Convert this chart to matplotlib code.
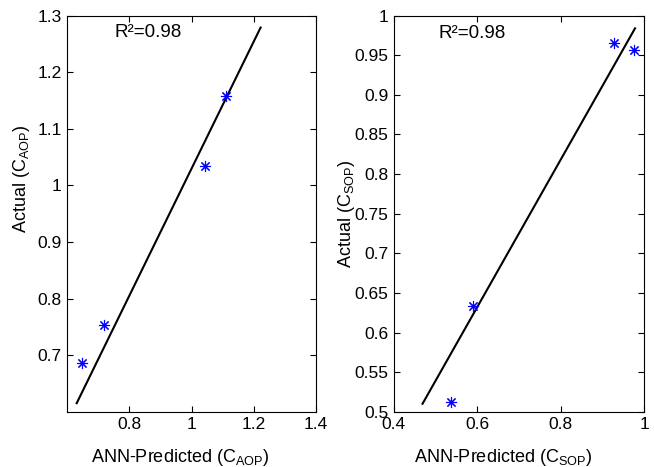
import matplotlib
matplotlib.use("Agg")
import matplotlib.pyplot as plt

plt.rcParams['font.family'] = ['Liberation Sans', 'DejaVu Sans']
plt.rcParams['mathtext.default'] = 'regular'

# Left panel (C_AOP)
aop_pred = [0.648, 0.717, 1.043, 1.110]
aop_actual = [0.686, 0.753, 1.035, 1.158]
aop_fit_x = [0.630, 1.222]
aop_fit_y = [0.615, 1.279]
aop_xticks = [0.8, 1.0, 1.2, 1.4]
aop_xticklabels = ['0.8', '1', '1.2', '1.4']
aop_yticks = [0.7, 0.8, 0.9, 1.0, 1.1, 1.2, 1.3]
aop_yticklabels = ['0.7', '0.8', '0.9', '1', '1.1', '1.2', '1.3']

# Right panel (C_SOP)
sop_pred = [0.538, 0.589, 0.928, 0.976]
sop_actual = [0.512, 0.634, 0.966, 0.957]
sop_fit_x = [0.469, 0.978]
sop_fit_y = [0.510, 0.984]
sop_xticks = [0.4, 0.6, 0.8, 1.0]
sop_xticklabels = ['0.4', '0.6', '0.8', '1']
sop_yticks = [0.5, 0.55, 0.6, 0.65, 0.7, 0.75, 0.8, 0.85, 0.9, 0.95, 1.0]
sop_yticklabels = ['0.5', '0.55', '0.6', '0.65', '0.7', '0.75', '0.8', '0.85', '0.9', '0.95', '1']

r2_text = 'R²=0.98'

fig = plt.figure(figsize=(6.54, 4.67), dpi=100)
ax1 = fig.add_axes([0.103, 0.1184, 0.380, 0.848])
ax2 = fig.add_axes([0.602, 0.1184, 0.383, 0.848])

asterisk = (8, 2, 0)
fs_tick = 12.5
fs_label = 13
fs_r2 = 13.5

def style(ax):
    ax.tick_params(direction='in', top=True, right=True, labelsize=fs_tick, length=4, width=0.8, pad=4)
    for s in ax.spines.values():
        s.set_linewidth(0.8)

ax1.plot(aop_fit_x, aop_fit_y, color='black', lw=1.5)
ax1.plot(aop_pred, aop_actual, linestyle='none', marker=asterisk, color='blue', markersize=8, markeredgewidth=0.8)
ax1.set_xlim(0.6, 1.4)
ax1.set_ylim(0.6, 1.3)
ax1.set_xticks(aop_xticks)
ax1.set_xticklabels(aop_xticklabels)
ax1.set_yticks(aop_yticks)
ax1.set_yticklabels(aop_yticklabels)
ax1.set_xlabel('ANN-Predicted (C$_{AOP}$)', fontsize=fs_label)
ax1.set_ylabel('Actual (C$_{AOP}$)', fontsize=fs_label)
ax1.xaxis.set_label_coords(0.453, -0.089)
ax1.yaxis.set_label_coords(-0.141, 0.588)
ax1.text(0.751, 1.270, r2_text, fontsize=fs_r2, ha='left', va='center')
style(ax1)

ax2.plot(sop_fit_x, sop_fit_y, color='black', lw=1.5)
ax2.plot(sop_pred, sop_actual, linestyle='none', marker=asterisk, color='blue', markersize=8, markeredgewidth=0.8)
ax2.set_xlim(0.4, 1.0)
ax2.set_ylim(0.5, 1.0)
ax2.set_xticks(sop_xticks)
ax2.set_xticklabels(sop_xticklabels)
ax2.set_yticks(sop_yticks)
ax2.set_yticklabels(sop_yticklabels)
ax2.set_xlabel('ANN-Predicted (C$_{SOP}$)', fontsize=fs_label)
ax2.set_ylabel('Actual (C$_{SOP}$)', fontsize=fs_label)
ax2.xaxis.set_label_coords(0.435, -0.089)
ax2.yaxis.set_label_coords(-0.148, 0.5)
ax2.text(0.508, 0.978, r2_text, fontsize=fs_r2, ha='left', va='center')
style(ax2)

fig.savefig('out.png', dpi=100)
